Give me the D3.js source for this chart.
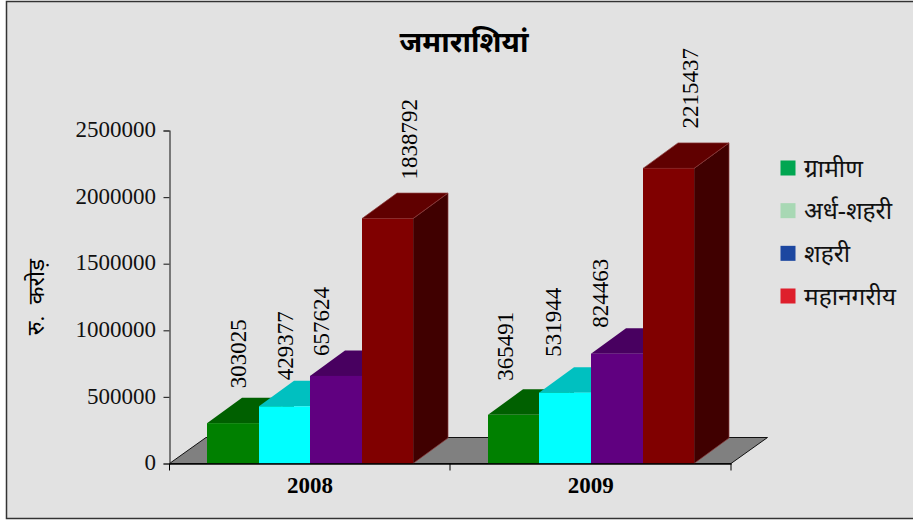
<!DOCTYPE html>
<html><head><meta charset="utf-8">
<script src="https://cdn.jsdelivr.net/npm/d3@7/dist/d3.min.js"></script>
<style>html,body{margin:0;padding:0;background:#fff}svg{display:block}text{font-family:"Liberation Serif","Noto Sans",serif}</style>
</head><body><svg id="c" width="913" height="520"></svg>
<script>
const years = ["2008", "2009"];
const seriesNames = ["ग्रामीण", "अर्ध-शहरी", "शहरी", "महानगरीय"];
const values2008 = [303025, 429377, 657624, 1838792];
const values2009 = [365491, 531944, 824463, 2215437];
const yTicks = [0, 500000, 1000000, 1500000, 2000000, 2500000];
const titleText = "जमाराशियां";
const yTitle = "रु.  करोड़";
const frontColors = ["#008000", "#00ffff", "#600080", "#800000"];
const topColors = ["#006000", "#00c0c0", "#480060", "#600000"];
const sideColors = ["#004000", "#008080", "#300040", "#400000"];
const edgeColors = ["none", "none", "none", "#8a3c3c"];
const legendColors = ["#00a651", "#a8d8b4", "#1c47a0", "#de1f2c"];
// hand-placed label nudges relative to each bar (the original labels were moved by hand)
const labelDx2008 = [13, 9, -7, 29];
const labelDx2009 = [-1, -4, -9, 30];
const labelGap2008 = [35, 26, 20, 39];
const labelGap2009 = [34, 36, 26, 40];

const svg = d3.select("#c");
svg.append("rect").attr("x",0).attr("y",0).attr("width",913).attr("height",520).attr("fill","#fff");
svg.append("rect").attr("x",6.5).attr("y",1.5).attr("width",912).attr("height",517).attr("fill","#e2e2e2").attr("stroke","#333").attr("stroke-width",1.5);

const depth = [35, -25.5];
const floorDepth = [36.5, -26];
const y = d3.scaleLinear().domain([0,2500000]).range([463.5,130.5]);
const x0 = d3.scaleBand().domain(years).range([169.5,731]);
const x1 = d3.scaleBand().domain(d3.range(4)).range([37.6,243.9]);
const base = y(0);
const line = d3.line();

// floor
svg.append("path").attr("d",line([[169.5,base],[169.5+floorDepth[0],base+floorDepth[1]],[731+floorDepth[0],base+floorDepth[1]],[731,base]])+"Z").attr("fill","#808080").attr("stroke","#111").attr("stroke-width",1);

years.forEach((yr,g)=>{
  const vals = g===0?values2008:values2009;
  vals.forEach((v,i)=>{
    const l = Math.round(x0(yr)+x1(i)), r = Math.round(x0(yr)+x1(i)+x1.bandwidth()), t = y(v);
    const G = svg.append("g");
    G.append("path").attr("d",line([[r,t],[r+depth[0],t+depth[1]],[r+depth[0],base+depth[1]],[r,base]])+"Z").attr("fill",sideColors[i]).attr("stroke",edgeColors[i]).attr("stroke-width",0.7);
    G.append("path").attr("d",line([[l,t],[l+depth[0],t+depth[1]],[r+depth[0],t+depth[1]],[r,t]])+"Z").attr("fill",topColors[i]).attr("stroke",edgeColors[i]).attr("stroke-width",0.7);
    G.append("rect").attr("x",l).attr("y",t).attr("width",r-l).attr("height",base-t).attr("fill",frontColors[i]);
  });
});
years.forEach((yr,g)=>{
  const vals = g===0?values2008:values2009;
  const dxs = g===0?labelDx2008:labelDx2009;
  const gaps = g===0?labelGap2008:labelGap2009;
  vals.forEach((v,i)=>{
    const cx = x0(yr)+x1(i)+x1.bandwidth()/2+dxs[i], t=y(v)-gaps[i];
    svg.append("text").attr("transform",`translate(${cx},${t}) rotate(-90)`).attr("font-size",23).attr("fill","#000").text(v);
  });
});

// axes
const axisY = d3.axisLeft(y).tickValues(yTicks).tickSize(6).tickPadding(7.5).tickFormat(d3.format("d"));
const gy = svg.append("g").attr("transform","translate(169.5,0)").call(axisY);
gy.selectAll("text").attr("font-size",23).attr("fill","#111").attr("dy","0.27em").style("font-family",'"Liberation Serif"');
gy.selectAll("line,path").attr("stroke","#333").attr("stroke-width",1.2);
const gx = svg.append("g").attr("transform",`translate(0,${base})`).call(
  d3.axisBottom(x0).tickSize(0).tickPadding(13));
gx.selectAll("text").attr("font-size",23).attr("font-weight","bold").attr("fill","#000").style("font-family",'"Liberation Serif"');
gx.selectAll("path").attr("stroke","#000").attr("stroke-width",1.5);
[169.5,450,731].forEach(px=>svg.append("line").attr("x1",px).attr("x2",px).attr("y1",base).attr("y2",base+7).attr("stroke","#000"));

svg.append("text").attr("x",464).attr("y",52).attr("text-anchor","middle").attr("font-size",29).attr("font-weight","bold").text(titleText);
svg.append("text").attr("transform","translate(44,297) rotate(-90)").attr("text-anchor","middle").attr("font-size",23).attr("xml:space","preserve").style("white-space","pre").text(yTitle);

const ly = d3.scalePoint().domain(seriesNames).range([168,296]);
seriesNames.forEach((s,i)=>{
  svg.append("rect").attr("x",780.5).attr("y",ly(s)-7.5).attr("width",15).attr("height",15).attr("fill",legendColors[i]);
  svg.append("text").attr("x",804).attr("y",ly(s)+8.5).attr("font-size",24.5).attr("fill","#111").text(s);
});
</script></body></html>
